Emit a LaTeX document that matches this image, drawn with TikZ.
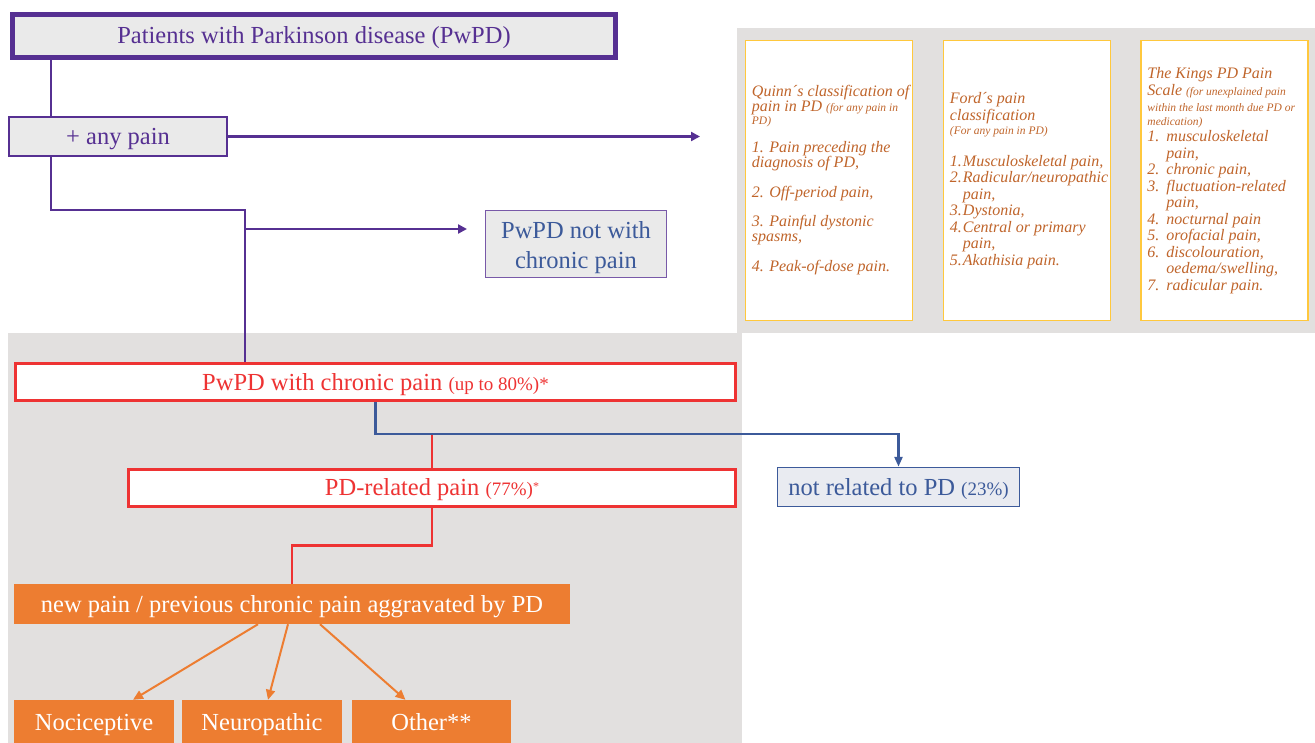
\documentclass[tikz,border=0pt]{standalone}
\usepackage{fontspec}
\setmainfont{Liberation Serif}
\usepackage{xcolor}
\usepackage{tikz}
\usetikzlibrary{positioning, arrows.meta}

\definecolor{pdpurple}{HTML}{563092}
\definecolor{pdgray}{HTML}{EAEAEA}
\definecolor{pdblue}{HTML}{3C5A9A}
\definecolor{pdred}{HTML}{EE3333}
\definecolor{pdorange}{HTML}{ED7D31}
\definecolor{pdyellow}{HTML}{FFC83D}
\definecolor{pdbrown}{HTML}{C0652B}
\definecolor{pdpanel}{HTML}{E2E0DF}
\definecolor{pdpale}{HTML}{E9EBF1}

\newcommand\pdsmall[1]{{\fontsize{11.5}{12}\selectfont #1}}
\newcommand\pdmid[1]{{\fontsize{19}{19}\selectfont #1}}
\newcommand\fordnum[1]{\makebox[13pt][l]{#1}}
\newcommand\kingsnum[1]{\makebox[19pt][l]{#1}}

\begin{document}
\begin{tikzpicture}[x=1pt, y=-1pt,
    every node/.style={font=\fontsize{24.5}{30}\selectfont},
    oneline/.style={text height=19pt, text depth=3pt},
    purplebox/.style={draw=pdpurple, fill=pdgray, text=pdpurple, inner sep=0pt},
    redbox/.style={oneline, draw=pdred, line width=3pt, fill=white, text=pdred, inner sep=0pt, minimum height=37},
    orangebox/.style={oneline, fill=pdorange, text=white, inner sep=0pt, minimum height=40},
    scalebox/.style={draw=pdyellow, line width=1.5pt, fill=white, minimum width=167, minimum height=280, inner sep=0pt},
    scaletext/.style={anchor=west, align=left, inner sep=0pt, text=pdbrown, font=\fontsize{16}{16.5}\selectfont\itshape},
    pline/.style={draw=pdpurple, line width=2.5pt},
    parrow/.style={pline, -{Triangle[length=9pt, width=9pt]}},
    rline/.style={draw=pdred, line width=2.5pt},
    barrow/.style={draw=pdblue, line width=2.5pt, -{Triangle[length=10pt, width=8pt]}},
    oarrow/.style={draw=pdorange, line width=2pt, -{Triangle[length=10pt, width=9pt]}}]
    \useasboundingbox (0,0) rectangle (1315,743);
    \fill[pdpanel] (737,28) rectangle (1315,333);
    \fill[pdpanel] (8,333) rectangle (742,743);

    \node[purplebox, oneline, line width=5pt, minimum width=603, minimum height=43] (pwpd) at (314,36) {Patients with Parkinson disease (PwPD)};
    \node[purplebox, oneline, line width=2pt, minimum width=218, minimum height=39] (anypain) at (118,136.5) {+ any pain};
    \node[purplebox, draw=pdpurple!80, line width=1pt, text=pdblue, text height=55pt, text depth=5pt, minimum width=181, minimum height=67, align=center] (notchronic) at (576,244) {PwPD not with\\chronic pain};

    \node[scalebox] (quinn) at (829,180.5) {};
    \node[scalebox] (ford) at (1027,180.5) {};
    \node[scalebox] (kings) at (1224.5,180.5) {};
    \node[scaletext, font=\fontsize{16}{15}\selectfont\itshape] (quinntext) at ([xshift=7]quinn.west) {Quinn´s classification of\\
        pain in PD \pdsmall{(for any pain in}\\[-2pt]
        \pdsmall{PD)}\\[13pt]
        1. Pain preceding the\\
        diagnosis of PD,\\[15pt]
        2. Off-period pain,\\[14pt]
        3. Painful dystonic\\
        spasms,\\[15pt]
        4. Peak-of-dose pain.};
    \node[scaletext] (fordtext) at ([xshift=7]ford.west) {Ford´s pain\\
        classification\\[-2pt]
        \pdsmall{(For any pain in PD)}\\[15pt]
        \fordnum{1.}Musculoskeletal pain,\\
        \fordnum{2.}Radicular/neuropathic\\
        \fordnum{}pain,\\
        \fordnum{3.}Dystonia,\\
        \fordnum{4.}Central or primary\\
        \fordnum{}pain,\\
        \fordnum{5.}Akathisia pain.};
    \node[scaletext] (kingstext) at ([xshift=7]kings.west) {The Kings PD Pain\\
        Scale \pdsmall{(for unexplained pain}\\
        \pdsmall{within the last month due PD or}\\[-3pt]
        \pdsmall{medication)}\\
        \kingsnum{1.}musculoskeletal\\
        \kingsnum{}pain,\\
        \kingsnum{2.}chronic pain,\\
        \kingsnum{3.}fluctuation-related\\
        \kingsnum{}pain,\\
        \kingsnum{4.}nocturnal pain\\
        \kingsnum{5.}orofacial pain,\\
        \kingsnum{6.}discolouration,\\
        \kingsnum{}oedema/swelling,\\
        \kingsnum{7.}radicular pain.};

    \node[redbox, minimum width=720] (chronic) at (375.5,382) {PwPD with chronic pain \pdmid{(up to 80\%)*}};
    \node[redbox, minimum width=607] (pdrel) at (432,487.5) {PD-related pain \pdmid{(77\%)}\raisebox{5pt}{\fontsize{12}{12}\selectfont *}};
    \node[oneline, draw=pdblue, line width=1.5pt, fill=pdpale, text=pdblue, inner sep=0pt, minimum width=242, minimum height=39] (notrel) at (898.5,487) {not related to PD \pdmid{(23\%)}};
    \node[orangebox, minimum width=556] (newpain) at (292,604) {new pain / previous chronic pain aggravated by PD};
    \foreach \n/\x/\w/\t in {noci/94/160/Nociceptive, neuro/262/160/Neuropathic, other/431.5/159/Other**}
        \node[orangebox, minimum width=\w, minimum height=44] (\n) at (\x,722) {\t};

    \coordinate (a1) at ([xshift=43]anypain.north west);
    \coordinate (a2) at ([xshift=43]anypain.south west);
    \coordinate (fork) at (245,229);
    \coordinate (nc) at ([xshift=-18]notchronic.west);
    \coordinate (scales) at (700,136.5);
    \draw[pline] (a1) -- (a1 |- pwpd.south);
    \draw[parrow] (anypain.east) -- (scales);
    \draw[pline] (a2) -- ++(0,53) -| (fork) -- (fork |- chronic.north);
    \draw[parrow] (fork) -- (nc |- fork);

    \draw[rline] (pdrel.north) -- ++(0,-34);
    \draw[barrow] (chronic.south) -- ++(0,32) -| (notrel.north);
    \draw[rline] (pdrel.south) -- ++(0,38) -| (newpain.north);
    \foreach \s/\d/\n in {-34/39/noci, -4/6/neuro, 28/-26/other}
        \draw[oarrow] ([xshift=\s]newpain.south) -- ([xshift=\d]\n.north);
\end{tikzpicture}
\end{document}
